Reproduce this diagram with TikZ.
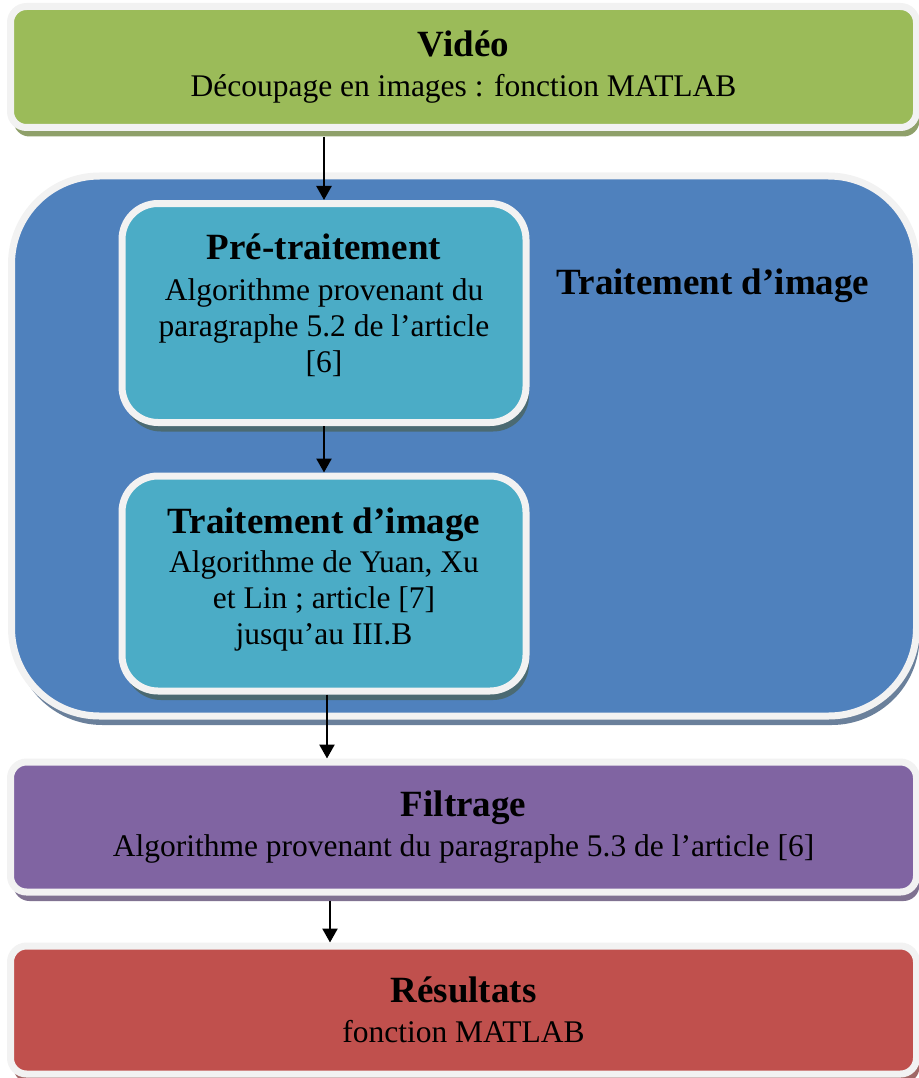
\documentclass[tikz,border=0pt]{standalone}
\usepackage{fontspec}
\setmainfont{Liberation Serif}
\usetikzlibrary{shadows,arrows.meta,calc}
\definecolor{vertvideo}{HTML}{9BBB59}
\definecolor{bleutrait}{HTML}{4F81BD}
\definecolor{cyanetape}{HTML}{4BACC6}
\definecolor{violetfiltre}{HTML}{8064A2}
\definecolor{rougeres}{HTML}{C0504D}
\definecolor{grisbord}{HTML}{F2F2F2}
\begin{document}
\begin{tikzpicture}[%
            x=1pt, y=-1pt,
            etape/.style={draw=grisbord, line width=7pt, rounded corners=16pt, align=center,
                          inner sep=0pt, font=\fontsize{31.5}{36}\selectfont},
            ombre/.style={drop shadow={shadow xshift=3pt, shadow yshift=-9pt, fill=#1, opacity=1}},
            titre/.style={font=\fontsize{37}{40}\selectfont\bfseries},
            fleche/.style={-{Triangle[length=14pt,width=15pt]}, line width=2.5pt}
        ]
        \useasboundingbox (0,0) rectangle (918,1078);

        \node [etape, ombre=vertvideo!55!gray, fill=vertvideo, minimum width=906pt, minimum height=121pt]
              (video) at (463.5,67) {{\bfseries\fontsize{37}{40}\selectfont Vidéo}\\[4pt]
              Découpage en images : fonction MATLAB};

        \node [etape, ombre=bleutrait!45!gray, fill=bleutrait, rounded corners=88pt,
               minimum width=905pt, minimum height=540pt] (bloc) at (464,446) {};
        \node [titre] (bloclbl) at (713,286) {Traitement d’image};

        \node [etape, ombre=cyanetape!40!black!80, fill=cyanetape, rounded corners=36pt,
               minimum width=404pt, minimum height=219pt] (pretrait) at (324,313)
              {{\bfseries\fontsize{37}{40}\selectfont Pré-traitement}\\[5pt]
               Algorithme provenant du\\paragraphe 5.2 de l’article\\{[6]}\rule[-20pt]{0pt}{1pt}};
        \node [etape, ombre=cyanetape!40!black!80, fill=cyanetape, rounded corners=36pt,
               minimum width=404pt, minimum height=215pt] (traitement) at (324,583.5)
              {{\bfseries\fontsize{37}{40}\selectfont Traitement d’image}\\[3pt]
               Algorithme de Yuan, Xu\\et Lin ; article [7]\\jusqu’au III.B\rule[-14pt]{0pt}{1pt}};

        \node [etape, ombre=violetfiltre!50!gray, fill=violetfiltre, minimum width=906pt, minimum height=130pt]
              (filtrage) at (463.5,827) {{\bfseries\fontsize{37}{40}\selectfont Filtrage}\\[4pt]
              Algorithme provenant du paragraphe 5.3 de l’article [6]};

        \node [etape, ombre=rougeres!50!gray, fill=rougeres, minimum width=906pt, minimum height=128pt]
              (resultats) at (463.5,1010) {{\bfseries\fontsize{37}{40}\selectfont Résultats}\\[4pt]
              fonction MATLAB};

        % fleches
        \draw [fleche] ($(pretrait.north |- video.south)+(0,6)$) -- (pretrait.north);
        \draw [fleche] (pretrait.south) -- (traitement.north);
        \draw [fleche] ($(traitement.south)+(3,0)$) -- ($(traitement.south |- filtrage.north)+(3,0)$);
        \draw [fleche] ($(traitement.south |- filtrage.south)+(6,5)$) -- ($(traitement.south |- resultats.north)+(6,0)$);
    \end{tikzpicture}
\end{document}
